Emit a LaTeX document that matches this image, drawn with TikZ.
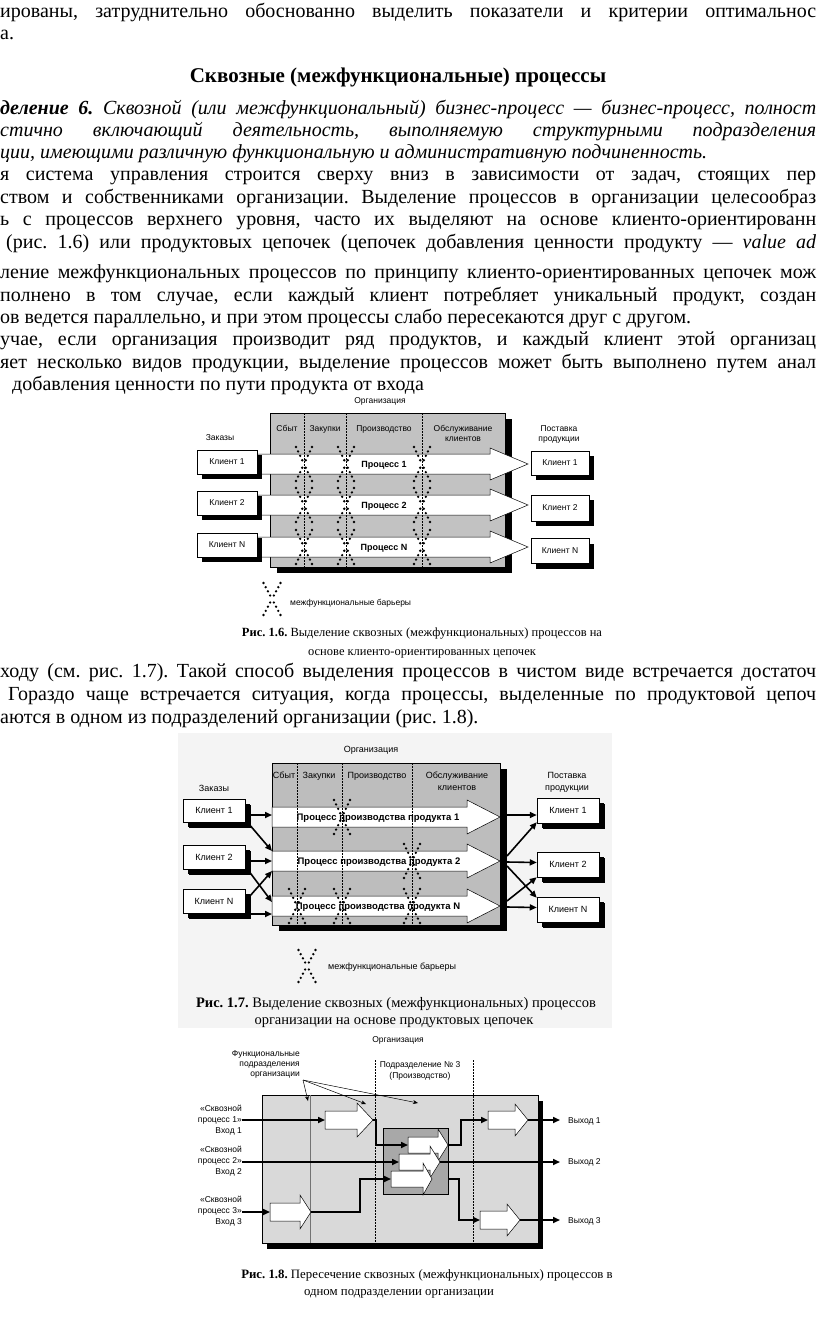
\documentclass[tikz,border=0pt]{standalone}
\usepackage{fontspec}
\setmainfont{Liberation Serif}
\newfontfamily\figsans{Liberation Sans}
\usetikzlibrary{arrows.meta,shadows,calc}
\definecolor{gsix}{gray}{0.76}
\definecolor{gseven}{gray}{0.74}
\definecolor{geight}{gray}{0.85}
\definecolor{geightd}{gray}{0.66}
\definecolor{bgtint}{gray}{0.955}
\frenchspacing
\newcommand\jline[2]{\makebox[#1][s]{#2}}
\newcommand\barrierX[4]{\foreach \t in {0.22,0.48,0.74,1.0}{\fill (#1+#3*\t,#2+#4*\t) circle[radius=1.3] (#1-#3*\t,#2+#4*\t) circle[radius=1.3] (#1+#3*\t,#2-#4*\t) circle[radius=1.3] (#1-#3*\t,#2-#4*\t) circle[radius=1.3];}}
\newcommand\blockarrow[6]{\filldraw[fill=white,draw=black,line width=0.5pt] (#1,#4-#5) -- (#2,#4-#5) -- (#2,#4-#6) -- (#3,#4) -- (#2,#4+#6) -- (#2,#4+#5) -- (#1,#4+#5) -- cycle;}
\begin{document}
\begin{tikzpicture}[x=1pt,y=-1pt,
  bt/.style={anchor=base west, inner sep=0pt, font=\fontsize{20}{22}\selectfont},
  lbl/.style={inner sep=0pt, font=\figsans\fontsize{8.5}{10}\selectfont, align=center},
  hl/.style={anchor=base, inner sep=0pt, font=\figsans\fontsize{8.5}{10}\selectfont},
  plbl/.style={inner sep=0pt, font=\figsans\bfseries\fontsize{9}{10}\selectfont},
  cl/.style={draw=black, line width=0.5pt, fill=white, inner sep=0pt, font=\figsans\fontsize{8.5}{10}\selectfont, general shadow={fill=black, shadow xshift=5pt, shadow yshift=-5pt}},
  captxt/.style={anchor=base, inner sep=0pt, font=\fontsize{12.5}{14}\selectfont},
  conn/.style={line width=1.6pt, -{Triangle[length=7pt,width=6pt]}},
  link/.style={line width=1.5pt},
  dsh/.style={dash pattern=on 1.5pt off 1.5pt, line width=0.5pt},
  lead/.style={line width=0.5pt, -{Stealth[length=5pt,width=4pt]}},
]
\useasboundingbox (0,0) rectangle (816,1335);
\fill[white] (0,0) rectangle (816,1335);

% ---------------- body text ----------------
\node[bt] (t1) at (0,18) {\jline{816pt}{ированы, затруднительно обоснованно выделить показатели и критерии оптимальнос}};
\node[bt] (t2) at (0,40) {а.};
\node[anchor=base, inner sep=0pt, font=\bfseries\fontsize{21}{22}\selectfont] (hd) at (398,83) {Сквозные (межфункциональные) процессы};
\node[bt] (t4) at (0,114) {\jline{816pt}{\textbf{\textit{деление 6.}} \textit{Сквозной (или межфункциональный) бизнес-процесс — бизнес-процесс, полност}}};
\node[bt] (t5) at (0,136) {\jline{816pt}{\textit{стично включающий деятельность, выполняемую структурными подразделения}}};
\node[bt] (t6) at (0,158) {\textit{ции, имеющими различную функциональную и административную подчиненность.}};
\node[bt] (t7) at (0,180) {\jline{816pt}{я система управления строится сверху вниз в зависимости от задач, стоящих пер}};
\node[bt] (t8) at (0,203) {\jline{816pt}{ством и собственниками организации. Выделение процессов в организации целесообраз}};
\node[bt] (t9) at (0,225) {\jline{816pt}{ь с процессов верхнего уровня, часто их выделяют на основе клиенто-ориентированн}};
\node[bt] (t10) at (6,248) {\jline{810pt}{(рис. 1.6) или продуктовых цепочек (цепочек добавления ценности продукту — \textit{value ad}}};
\node[bt] (t11) at (0,278) {\jline{816pt}{ление межфункциональных процессов по принципу клиенто-ориентированных цепочек мож}};
\node[bt] (t12) at (0,301) {\jline{816pt}{полнено в том случае, если каждый клиент потребляет уникальный продукт, создан}};
\node[bt] (t13) at (0,323) {ов ведется параллельно, и при этом процессы слабо пересекаются друг с другом.};
\node[bt] (t14) at (0,345) {\jline{816pt}{учае, если организация производит ряд продуктов, и каждый клиент этой организац}};
\node[bt] (t15) at (0,368) {\jline{816pt}{яет несколько видов продукции, выделение процессов может быть выполнено путем анал}};
\node[bt] (t16) at (12,390) {добавления ценности по пути продукта от входа};
\node[bt] (t17) at (0,677) {\jline{816pt}{ходу (см. рис. 1.7). Такой способ выделения процессов в чистом виде встречается достаточ}};
\node[bt] (t18) at (8,700) {\jline{808pt}{Гораздо чаще встречается ситуация, когда процессы, выделенные по продуктовой цепоч}};
\node[bt] (t19) at (0,723) {аются в одном из подразделений организации (рис. 1.8).};

% ---------------- figure 1.6 ----------------
\node[hl] (o6) at (380,403) {Организация};
\fill[black] (277,419) rectangle (512,573);
\filldraw[fill=gsix, draw=black, line width=0.5pt] (270,413) rectangle (505,567);
\node[hl] (h61) at (287,431) {Сбыт};
\node[hl] (h62) at (325,431) {Закупки};
\node[hl] (h63) at (384,431) {Производство};
\node[hl] (h64) at (463,431) {Обслуживание};
\node[hl] (h64b) at (463,441) {клиентов};
\node[hl] (z6) at (220,440) {Заказы};
\node[hl] (s6) at (559,431) {Поставка};
\node[hl] (s6b) at (559,441) {продукции};
\blockarrow{250}{490}{528}{464}{10}{16}
\blockarrow{250}{490}{528}{505}{10}{16}
\blockarrow{250}{490}{528}{547}{10}{16}
\foreach \xx in {304,346,422}{\draw[dsh] (\xx,413) -- (\xx,567);}
\node[plbl] (p61) at (384,465) {Процесс 1};
\node[plbl] (p62) at (384,506) {Процесс 2};
\node[plbl] (p6N) at (384,548) {Процесс N};
\foreach \xx in {304,346,422}{\foreach \yy in {464,505,547}{\barrierX{\xx}{\yy}{8}{17}}}
\node[cl, minimum width=60, minimum height=24] (l61) at (227,462) {Клиент 1};
\node[cl, minimum width=60, minimum height=24] (l62) at (227,503) {Клиент 2};
\node[cl, minimum width=60, minimum height=24] (l6N) at (227,545) {Клиент N};
\node[cl, minimum width=58, minimum height=24] (r61) at (560,463) {Клиент 1};
\node[cl, minimum width=58, minimum height=26] (r62) at (560,508) {Клиент 2};
\node[cl, minimum width=58, minimum height=25] (r6N) at (560,551) {Клиент N};
\barrierX{272}{599}{8.5}{16}
\node[lbl, anchor=west] (b6) at (290,603) {межфункциональные барьеры};
\node[captxt] (c61) at (422,636) {\textbf{Рис. 1.6.} Выделение сквозных (межфункциональных) процессов на};
\node[captxt] (c62) at (422,655) {основе клиенто-ориентированных цепочек};

% ---------------- figure 1.7 ----------------
\fill[bgtint] (178,733) rectangle (612,1028);
\begin{scope}[hl/.append style={font=\figsans\fontsize{9}{10}\selectfont},
  cl/.append style={font=\figsans\fontsize{9}{10}\selectfont, general shadow={fill=black, shadow xshift=6pt, shadow yshift=-6pt}},
  plbl/.append style={font=\figsans\bfseries\fontsize{9.5}{10}\selectfont}]
\node[hl] (o7) at (371,752) {Организация};
\fill[black] (279,769) rectangle (507,931);
\filldraw[fill=gseven, draw=black, line width=0.5pt] (272,763) rectangle (500,925);
\node[hl] (h71) at (284,778) {Сбыт};
\node[hl] (h72) at (319,778) {Закупки};
\node[hl] (h73) at (377,778) {Производство};
\node[hl] (h74) at (457,778) {Обслуживание};
\node[hl] (h74b) at (457,790) {клиентов};
\node[hl] (z7) at (214,791) {Заказы};
\node[hl] (s7) at (567,778) {Поставка};
\node[hl] (s7b) at (567,790) {продукции};
\blockarrow{272}{467}{500}{817}{10}{17}
\blockarrow{272}{467}{500}{861}{10}{17}
\blockarrow{272}{467}{500}{906}{10}{17}
\foreach \xx in {297,342,412}{\draw[dsh] (\xx,763) -- (\xx,925);}
\node[plbl] (p71) at (378,818) {Процесс производства продукта 1};
\node[plbl] (p72) at (379,862) {Процесс производства продукта 2};
\node[plbl] (p7N) at (378,907) {Процесс производства продукта N};
\barrierX{342}{817}{8}{17}
\barrierX{412}{861}{8}{17}
\barrierX{297}{906}{8}{17}
\barrierX{342}{906}{8}{17}
\barrierX{412}{906}{8}{17}
\node[cl, minimum width=62, minimum height=23] (l71) at (214,810.5) {Клиент 1};
\node[cl, minimum width=62, minimum height=24] (l72) at (214,857) {Клиент 2};
\node[cl, minimum width=62, minimum height=24] (l7N) at (214,901) {Клиент N};
\node[cl, minimum width=62, minimum height=25] (r71) at (568,810.5) {Клиент 1};
\node[cl, minimum width=62, minimum height=25] (r72) at (568,864.5) {Клиент 2};
\node[cl, minimum width=62, minimum height=25] (r7N) at (568,909.5) {Клиент N};
\end{scope}
\coordinate (a71) at (272,815);
\coordinate (a72t) at (272,851);
\coordinate (a72) at (272,861);
\coordinate (a72b) at (272,871);
\coordinate (a7Nt) at (272,902);
\coordinate (a7N) at (272,914);
\draw[conn] ($(l71.east)+(6,4.5)$) -- (a71);
\draw[conn] ($(l71.south east)+(3,1)$) -- (a72t);
\draw[conn] ($(l72.east)+(6,4)$) -- (a72);
\draw[conn] ($(l72.south east)+(3,1)$) -- (a7Nt);
\draw[conn] ($(l7N.north east)+(4,8)$) -- (a72b);
\draw[conn] ($(l7N.east)+(6,13)$) -- (a7N);
\coordinate (e71) at (507,815);
\coordinate (e72a) at (507,856);
\coordinate (e72b) at (507,862);
\coordinate (e72c) at (507,866);
\coordinate (e7Na) at (507,901);
\coordinate (e7Nb) at (507,907);
\draw[conn] (e71) -- ($(r71.west)+(0,4.5)$);
\draw[conn] (e72a) -- ($(r71.south west)+(0,-1)$);
\draw[conn] (e72b) -- ($(r72.west)+(0,-2)$);
\draw[conn] (e72c) -- ($(r7N.north west)+(0,1)$);
\draw[conn] (e7Na) -- ($(r72.south west)+(0,0)$);
\draw[conn] (e7Nb) -- ($(r7N.west)+(0,-2)$);
\barrierX{307}{966}{8.5}{16}
\node[lbl, font=\figsans\fontsize{9}{10}\selectfont, anchor=west] (b7) at (328,967) {межфункциональные барьеры};
\node[captxt, font=\fontsize{14.5}{16}\selectfont] (c71) at (396,1007) {\textbf{Рис. 1.7.} Выделение сквозных (межфункциональных) процессов};
\node[captxt, font=\fontsize{14.5}{16}\selectfont] (c72) at (394,1024) {организации на основе продуктовых цепочек};

% ---------------- figure 1.8 ----------------
\node[hl] (o8) at (398,1042) {Организация};
\node[lbl, font=\figsans\fontsize{8.5}{10}\selectfont, align=right, anchor=north east] (fp) at (300,1050) {Функциональные\\подразделения\\организации};
\node[lbl, font=\figsans\fontsize{8.5}{11.5}\selectfont] (pd) at (420,1071) {Подразделение № 3\\(Производство)};
\fill[black] (267,1101) rectangle (543,1249);
\filldraw[fill=geight, draw=black, line width=0.5pt] (262,1095) rectangle (538,1243);
\draw[line width=0.4pt, black!55] (310,1095) -- (310,1243);
\draw[dsh] (375,1060) -- (375,1243);
\draw[dsh] (473,1060) -- (473,1243);
\coordinate (fpo) at (303,1080);
\draw[lead] (fpo) -- (308,1101);
\draw[lead] (fpo) -- (366,1104);
\draw[lead] (fpo) -- (418,1103);
\filldraw[fill=geightd, draw=black, line width=0.5pt] (383,1128) rectangle (448,1194);
\blockarrow{325}{357}{373}{1120}{9}{17}
\blockarrow{270}{300}{311}{1212}{9}{17}
\blockarrow{488}{515}{528}{1120}{9}{16}
\blockarrow{480}{507}{520}{1220}{9}{16}
\blockarrow{408}{438}{448}{1145}{8}{16}
\blockarrow{399}{430}{440}{1162}{8}{16}
\blockarrow{391}{423}{432}{1179}{8}{16}
\node[lbl, font=\figsans\fontsize{8.5}{11}\selectfont, align=right, anchor=east] (in1) at (242,1120) {«Сквозной\\процесс 1»\\Вход 1};
\node[lbl, font=\figsans\fontsize{8.5}{11}\selectfont, align=right, anchor=east] (in2) at (242,1161) {«Сквозной\\процесс 2»\\Вход 2};
\node[lbl, font=\figsans\fontsize{8.5}{11}\selectfont, align=right, anchor=east] (in3) at (242,1211) {«Сквозной\\процесс 3»\\Вход 3};
\node[lbl, font=\figsans\fontsize{8.5}{10}\selectfont, anchor=west] (out1) at (568,1121) {Выход 1};
\node[lbl, font=\figsans\fontsize{8.5}{10}\selectfont, anchor=west] (out2) at (568,1162) {Выход 2};
\node[lbl, font=\figsans\fontsize{8.5}{10}\selectfont, anchor=west] (out3) at (568,1221) {Выход 3};
\draw[conn] (in1.east |- 0,1120) -- (325,1120);
\draw[link] (373,1120) -- (376,1120) -- (376,1145);
\draw[conn] (375.25,1145) -- (408,1145);
\draw[conn] (in2.east |- 0,1162) -- (399,1162);
\draw[conn] (440,1162) -- (out2.west -| 560,0);
\draw[conn] (in3.east |- 0,1212) -- (270,1212);
\draw[link] (311,1212) -- (360,1212) -- (360,1179);
\draw[conn] (359.25,1179) -- (391,1179);
\draw[link] (448,1145) -- (461,1145) -- (461,1120);
\draw[conn] (460.25,1120) -- (488,1120);
\draw[conn] (528,1120) -- (560,1120);
\draw[link] (448,1179) -- (459,1179) -- (459,1220);
\draw[conn] (458.25,1220) -- (480,1220);
\draw[conn] (520,1220) -- (560,1220);
\node[captxt, font=\fontsize{12.8}{14}\selectfont] (c81) at (427,1278) {\textbf{Рис. 1.8.} Пересечение сквозных (межфункциональных) процессов в};
\node[captxt, font=\fontsize{12.8}{14}\selectfont] (c82) at (399,1295) {одном подразделении организации};
\end{tikzpicture}
\end{document}
